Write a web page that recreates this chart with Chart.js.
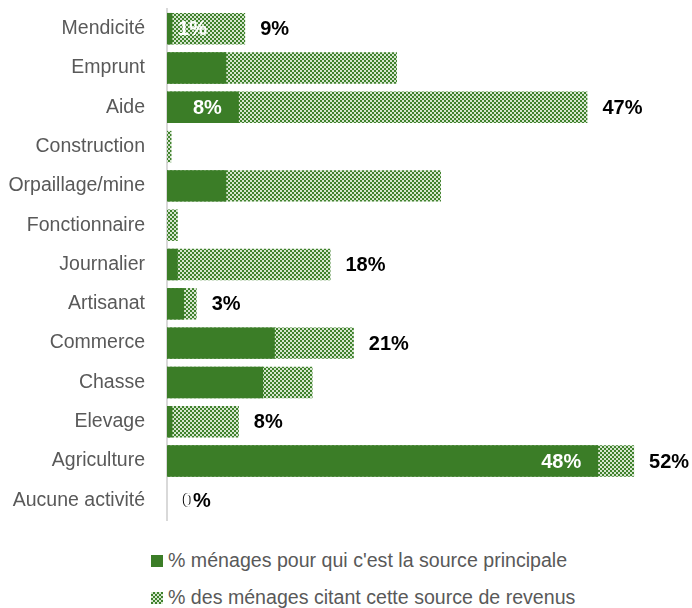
<!DOCTYPE html>
<html lang="fr">
<head>
    <meta charset="UTF-8">
    <title>Sources de revenus des ménages</title>
    <style>
        body {
    margin: 0;
    padding: 0;
    background-color: #fff;
    font-family: 'Liberation Sans', Arial, sans-serif;
}

.chart-box {
    position: relative;
    width: 692px;
    height: 530px;
}

.legend {
    position: absolute;
    left: 151px;
    top: 548px;
    color: #595959;
    font-size: 19.6px;
}

.legend div {
    height: 37px;
    line-height: 24px;
    white-space: nowrap;
}

.swatch {
    display: inline-block;
    width: 12px;
    height: 12px;
    margin-right: 5px;
    vertical-align: 0px;
}

.swatch.solid {
    background: #3b7d27;
}

.swatch.checked {
    background: repeating-conic-gradient(#3f812c 0 25%, #d6e6cf 0 50%) 0 0 / 4px 4px;
}
    </style>
</head>
<body>
    <div class="chart-box">
        <canvas id="revenusChart" width="692" height="530"></canvas>
    </div>
    <div class="legend" id="legend"></div>

    <script src="https://cdn.jsdelivr.net/npm/chart.js"></script>
    <script>
const categories = ['Mendicité', 'Emprunt', 'Aide', 'Construction', 'Orpaillage/mine', 'Fonctionnaire', 'Journalier', 'Artisanat', 'Commerce', 'Chasse', 'Elevage', 'Agriculture', 'Aucune activité'];

// % ménages pour qui c'est la source principale
const principale = [0.6, 6.6, 8, 0, 6.6, 0, 1.2, 1.9, 12, 10.7, 0.6, 48, 0];
// % des ménages citant cette source
const citant = [8.7, 25.6, 46.8, 0.5, 30.5, 1.2, 18.2, 3.3, 20.8, 16.2, 8, 52, 0];

// labels shown on the picture (blank = none)
const principaleLabels = ['1%', '', '8%', '', '', '', '', '', '', '', '', '48%', '0'];
const citantLabels = ['9%', '', '47%', '', '', '', '18%', '3%', '21%', '', '8%', '52%', '0%'];

const seriesNames = ["% ménages pour qui c'est la source principale", '% des ménages citant cette source de revenus'];

const FONT = "'Liberation Sans', Arial, sans-serif";

// checkered fill for the "citing" bars
function makePattern() {
    const c = document.createElement('canvas');
    c.width = 4;
    c.height = 4;
    const g = c.getContext('2d');
    g.fillStyle = '#d6e6cf';
    g.fillRect(0, 0, 4, 4);
    g.fillStyle = '#3f812c';
    g.fillRect(0, 0, 2, 2);
    g.fillRect(2, 2, 2, 2);
    return g.createPattern(c, 'repeat');
}

const valueLabels = {
    id: 'valueLabels',
    afterDatasetsDraw(chart) {
        const ctx = chart.ctx;
        const base = chart.scales.x.getPixelForValue(0);
        ctx.save();
        ctx.textBaseline = 'middle';
        ctx.font = 'bold 20px ' + FONT;

        // outside labels (black)
        const citMeta = chart.getDatasetMeta(1);
        ctx.fillStyle = '#000';
        ctx.textAlign = 'left';
        citMeta.data.forEach((bar, i) => {
            if (citantLabels[i]) ctx.fillText(citantLabels[i], bar.x + 15, bar.y + 1);
        });

        // inside labels (white)
        const prMeta = chart.getDatasetMeta(0);
        ctx.fillStyle = '#fff';
        prMeta.data.forEach((bar, i) => {
            const txt = principaleLabels[i];
            if (!txt) return;
            if (txt === '0') {
                ctx.textAlign = 'left';
                ctx.fillText(txt, citMeta.data[i].x + 16, bar.y + 1);
                return;
            }
            ctx.textAlign = 'right';
            ctx.fillText(txt, Math.max(bar.x - 17, base + 40), bar.y + 1);
        });
        ctx.restore();
    }
};

const ctx = document.getElementById('revenusChart').getContext('2d');
const revenusChart = new Chart(ctx, {
    type: 'bar',
    data: {
        labels: categories,
        datasets: [{
            label: seriesNames[0],
            data: principale,
            backgroundColor: '#3b7d27',
            grouped: false,
            barPercentage: 0.8,
            categoryPercentage: 1
        }, {
            label: seriesNames[1],
            data: citant,
            backgroundColor: makePattern(),
            grouped: false,
            barPercentage: 0.8,
            categoryPercentage: 1
        }]
    },
    options: {
        indexAxis: 'y',
        responsive: false,
        animation: false,
        layout: {
            padding: { top: 9, right: 4, bottom: 10, left: 0 }
        },
        plugins: {
            legend: { display: false },
            tooltip: { enabled: false }
        },
        scales: {
            x: {
                display: false,
                min: 0,
                max: 58
            },
            y: {
                grid: { display: false, drawTicks: false },
                border: { display: true, color: '#d9d9d9', width: 2 },
                ticks: {
                    color: '#595959',
                    padding: 22,
                    font: { family: FONT, size: 19.5 }
                },
                afterFit(scale) {
                    scale.width = 167;
                    scale.paddingTop = 0;
                    scale.paddingBottom = 0;
                }
            }
        }
    },
    plugins: [valueLabels]
});

// legend under the chart
const legend = document.getElementById('legend');
legend.innerHTML = seriesNames.map((name, i) =>
    `<div><span class="swatch ${i === 0 ? 'solid' : 'checked'}"></span>${name}</div>`
).join('');
    </script>
</body>
</html>
